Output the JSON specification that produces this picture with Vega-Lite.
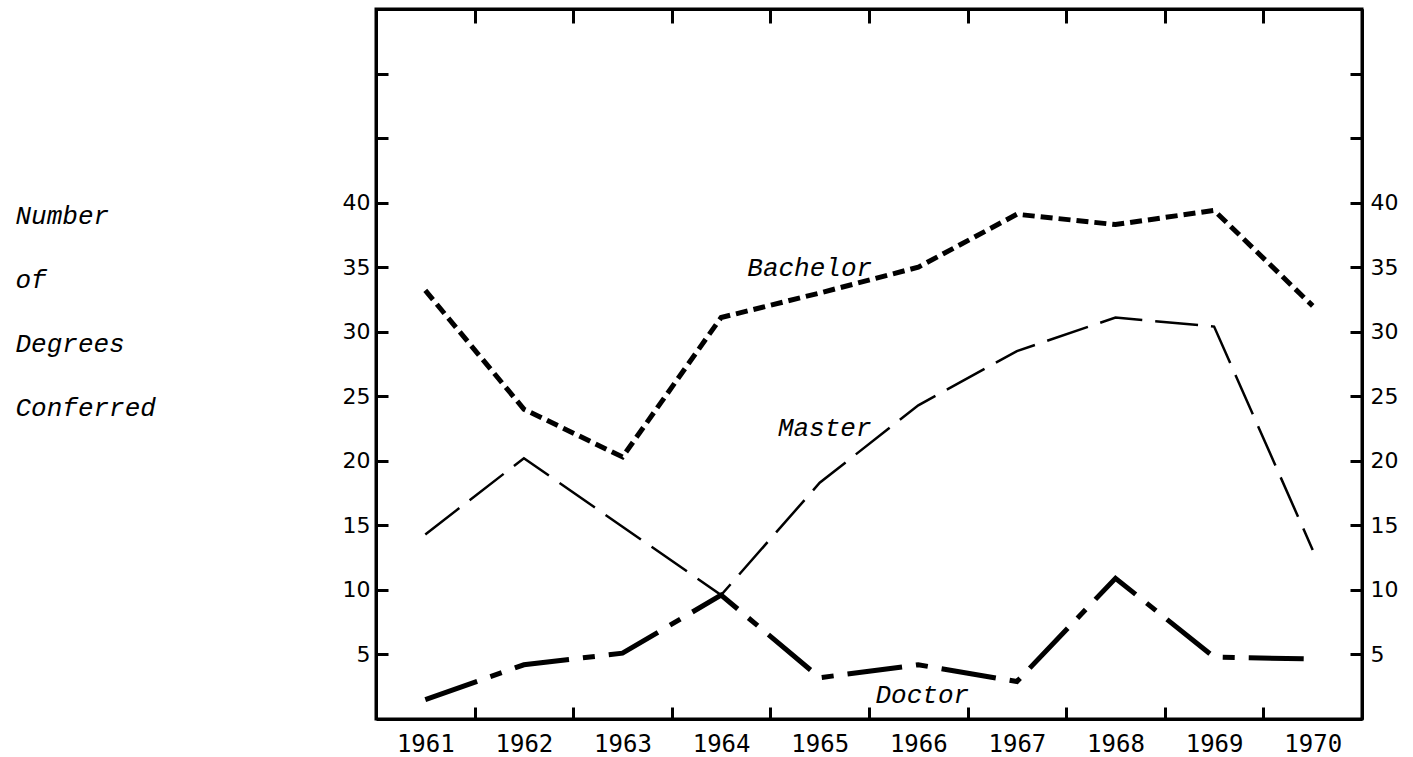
{
  "$schema": "https://vega.github.io/schema/vega-lite/v6.json",
  "width": 986,
  "height": 710,
  "autosize": {"type": "none"},
  "padding": {"left": 376, "top": 9, "right": 51, "bottom": 38},
  "background": "white",
  "config": {
    "view": {"stroke": "black", "strokeWidth": 3},
    "axis": {"domainColor": "black", "domainWidth": 3, "tickColor": "black", "tickWidth": 3, "labelColor": "black", "grid": false, "titleColor": "black"}
  },
  "datasets": {
    "series": [
      {"year": "1961", "series": "Bachelor", "value": 33.2},
      {"year": "1962", "series": "Bachelor", "value": 24.0},
      {"year": "1963", "series": "Bachelor", "value": 20.3},
      {"year": "1964", "series": "Bachelor", "value": 31.1},
      {"year": "1965", "series": "Bachelor", "value": 33.0},
      {"year": "1966", "series": "Bachelor", "value": 35.0},
      {"year": "1967", "series": "Bachelor", "value": 39.1},
      {"year": "1968", "series": "Bachelor", "value": 38.3},
      {"year": "1969", "series": "Bachelor", "value": 39.4},
      {"year": "1970", "series": "Bachelor", "value": 32.0},
      {"year": "1961", "series": "Master", "value": 14.3},
      {"year": "1962", "series": "Master", "value": 20.2},
      {"year": "1963", "series": "Master", "value": 14.9},
      {"year": "1964", "series": "Master", "value": 9.6},
      {"year": "1965", "series": "Master", "value": 18.3},
      {"year": "1966", "series": "Master", "value": 24.3},
      {"year": "1967", "series": "Master", "value": 28.5},
      {"year": "1968", "series": "Master", "value": 31.1},
      {"year": "1969", "series": "Master", "value": 30.4},
      {"year": "1970", "series": "Master", "value": 13.1},
      {"year": "1961", "series": "Doctor", "value": 1.5},
      {"year": "1962", "series": "Doctor", "value": 4.2},
      {"year": "1963", "series": "Doctor", "value": 5.1},
      {"year": "1964", "series": "Doctor", "value": 9.6},
      {"year": "1965", "series": "Doctor", "value": 3.2},
      {"year": "1966", "series": "Doctor", "value": 4.2},
      {"year": "1967", "series": "Doctor", "value": 2.9},
      {"year": "1968", "series": "Doctor", "value": 10.9},
      {"year": "1969", "series": "Doctor", "value": 4.8},
      {"year": "1970", "series": "Doctor", "value": 4.65}
    ],
    "labels": [
      {"year": "1965", "value": 34.3, "label": "Bachelor"},
      {"year": "1965", "value": 21.9, "label": "Master"},
      {"year": "1966", "value": 1.24, "label": "Doctor"}
    ]
  },
  "resolve": {"axis": {"x": "independent", "y": "independent"}},
  "layer": [
    {
      "data": {"name": "series"},
      "transform": [{"filter": "datum.series === 'Bachelor'"}],
      "mark": {"type": "line", "stroke": "black", "strokeWidth": 5, "strokeDash": [12, 6]},
      "encoding": {
        "x": {
          "field": "year", "type": "ordinal",
          "scale": {"type": "band", "paddingInner": 0, "paddingOuter": 0, "domain": ["1961","1962","1963","1964","1965","1966","1967","1968","1969","1970"]},
          "axis": {"orient": "bottom", "title": null, "tickBand": "extent", "tickSize": -12, "labelPadding": 25, "labelFont": "DejaVu Sans Mono", "labelFontSize": 24, "labelAngle": 0, "labelBaseline": "top"}
        },
        "y": {
          "field": "value", "type": "quantitative",
          "scale": {"domain": [0, 55], "nice": false, "zero": true},
          "axis": {
            "orient": "left", "values": [5,10,15,20,25,30,35,40,45,50],
            "labelExpr": "datum.value > 40 ? '' : datum.label",
            "tickSize": -12, "labelPadding": 18, "labelFont": "DejaVu Sans", "labelFontSize": 22,
            "title": ["Number", "of", "Degrees", "Conferred"],
            "titleAngle": 0, "titleAlign": "left", "titleBaseline": "alphabetic",
            "titleX": -361, "titleY": 214, "titleFont": "Liberation Mono", "titleFontStyle": "italic",
            "titleFontWeight": "normal", "titleFontSize": 26, "titleLineHeight": 64
          }
        }
      }
    },
    {
      "data": {"name": "series"},
      "transform": [{"filter": "datum.series === 'Master'"}],
      "mark": {"type": "line", "stroke": "black", "strokeWidth": 2.5, "strokeDash": [43, 13]},
      "encoding": {
        "x": {"field": "year", "type": "ordinal", "axis": {"orient": "top", "title": null, "tickBand": "extent", "tickSize": -14, "labels": false}},
        "y": {
          "field": "value", "type": "quantitative",
          "axis": {
            "orient": "right", "values": [5,10,15,20,25,30,35,40,45,50],
            "labelExpr": "datum.value > 40 ? '' : datum.label",
            "tickSize": -12, "labelPadding": 20, "labelFont": "DejaVu Sans", "labelFontSize": 22, "title": null
          }
        }
      }
    },
    {
      "data": {"name": "series"},
      "transform": [{"filter": "datum.series === 'Doctor'"}],
      "mark": {"type": "line", "stroke": "black", "strokeWidth": 5, "strokeDash": [55, 14, 12, 14]},
      "encoding": {
        "x": {"field": "year", "type": "ordinal", "axis": null},
        "y": {"field": "value", "type": "quantitative", "axis": null}
      }
    },
    {
      "data": {"name": "labels"},
      "transform": [{"filter": "datum.label === 'Bachelor'"}],
      "mark": {"type": "text", "font": "Liberation Mono", "fontStyle": "italic", "fontSize": 26, "align": "center", "baseline": "alphabetic", "dx": -10, "color": "black"},
      "encoding": {
        "x": {"field": "year", "type": "ordinal", "axis": null},
        "y": {"field": "value", "type": "quantitative", "axis": null},
        "text": {"field": "label"}
      }
    },
    {
      "data": {"name": "labels"},
      "transform": [{"filter": "datum.label === 'Master'"}],
      "mark": {"type": "text", "font": "Liberation Mono", "fontStyle": "italic", "fontSize": 26, "align": "center", "baseline": "alphabetic", "dx": 5, "color": "black"},
      "encoding": {
        "x": {"field": "year", "type": "ordinal", "axis": null},
        "y": {"field": "value", "type": "quantitative", "axis": null},
        "text": {"field": "label"}
      }
    },
    {
      "data": {"name": "labels"},
      "transform": [{"filter": "datum.label === 'Doctor'"}],
      "mark": {"type": "text", "font": "Liberation Mono", "fontStyle": "italic", "fontSize": 26, "align": "center", "baseline": "alphabetic", "dx": 4, "color": "black"},
      "encoding": {
        "x": {"field": "year", "type": "ordinal", "axis": null},
        "y": {"field": "value", "type": "quantitative", "axis": null},
        "text": {"field": "label"}
      }
    }
  ]
}
